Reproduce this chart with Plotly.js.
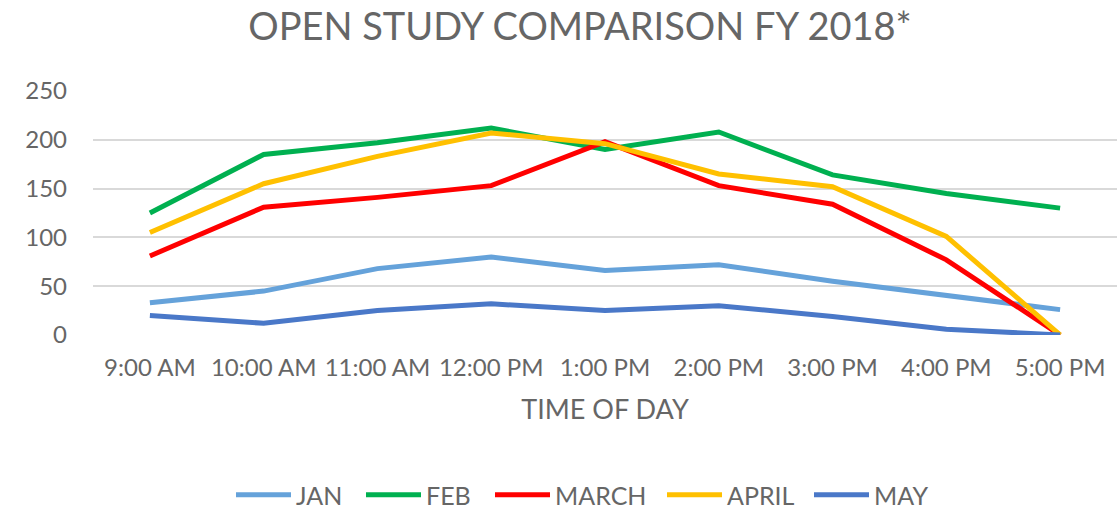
<!DOCTYPE html>
<html>
<head>
<meta charset="utf-8">
<script src="https://cdn.plot.ly/plotly-3.0.1.min.js"></script>
<style>html,body{margin:0;padding:0;background:#fff;}#chart{width:1120px;height:514px;}</style>
</head>
<body>
<div id="chart"></div>
<script>
const categories = ["9:00 AM","10:00 AM","11:00 AM","12:00 PM","1:00 PM","2:00 PM","3:00 PM","4:00 PM","5:00 PM"];
const jan   = [33, 45, 68, 80, 66, 72, 55, 40, 26];
const feb   = [125, 185, 197, 212, 190, 208, 164, 145, 130];
const march = [81, 131, 141, 153, 198, 153, 134, 77, 0];
const april = [105, 155, 183, 207, 196, 165, 152, 101, 0];
const may   = [20, 12, 25, 32, 25, 30, 19, 6, 0];
const seriesNames = ["JAN","FEB","MARCH","APRIL","MAY"];
const seriesColors = ["#65A2DA","#00B050","#FF0000","#FFC000","#4A78C8"];
const seriesValues = [jan, feb, march, april, may];
const legendWidths = [60, 59, 102, 77, 60];

const fontFam = "Lato, 'Open Sans', sans-serif";
const txtColor = "#666666";
const traces = seriesValues.map((v, i) => ({
  type: "scatter", mode: "lines", x: categories, y: v, name: seriesNames[i],
  legendwidth: legendWidths[i],
  line: {color: seriesColors[i], width: 5, shape: "linear"}
}));

const layout = {
  width: 1120, height: 514,
  margin: {l: 93, r: 3, t: 91, b: 179},
  paper_bgcolor: "#fff", plot_bgcolor: "#fff",
  title: {text: "OPEN STUDY COMPARISON FY 2018*", x: 580/1120, xref: "container", xanchor: "center", y: 1 - 27/514, yref: "container", yanchor: "middle",
          font: {family: fontFam, size: 38, color: txtColor}},
  xaxis: {type: "category", range: [-0.5, 8.5], showgrid: false, zeroline: false, showline: false,
          ticks: "", tickfont: {family: fontFam, size: 24, color: txtColor}, ticklabelstandoff: 16,
          title: {text: "TIME OF DAY", font: {family: fontFam, size: 27, color: txtColor}, standoff: 20}},
  yaxis: {range: [0, 250], dtick: 50, showgrid: true, gridcolor: "#d9d9d9", gridwidth: 2, zeroline: false,
          showline: false, ticks: "", tickfont: {family: fontFam, size: 24, color: txtColor}, ticklabelstandoff: 25},
  legend: {orientation: "h", x: 585/1120, xanchor: "center", xref: "container", y: 1 - 495/514, yref: "container", yanchor: "middle",
           font: {family: fontFam, size: 25, color: txtColor}, itemwidth: 55, traceorder: "normal"},
  showlegend: true
};
Plotly.newPlot("chart", traces, layout, {displayModeBar: false, staticPlot: true});
</script>
</body>
</html>
